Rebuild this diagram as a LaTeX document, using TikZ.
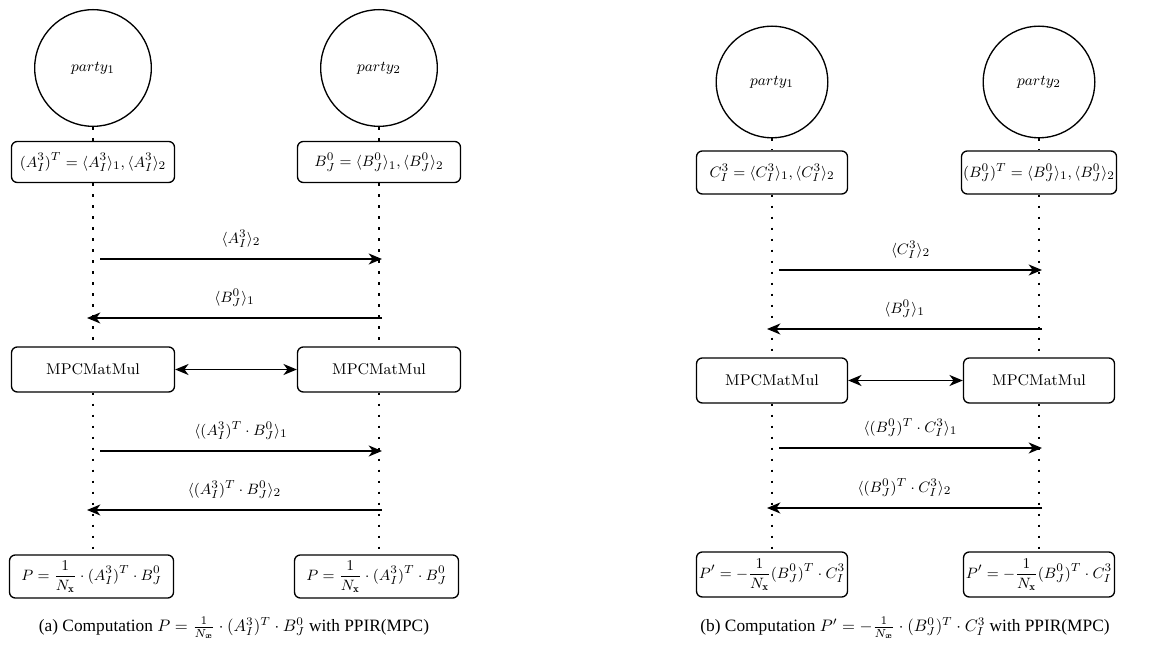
\documentclass[tikz,border=0pt]{standalone}
\usepackage{amsmath,bm}
\usepackage{fontspec}
\newfontfamily\capfont{Liberation Serif}
\usetikzlibrary{arrows.meta}
\tikzset{
  party/.style={draw, circle, line width=.8pt, minimum size=#1, inner sep=0pt},
  share/.style={draw, rounded corners=3.5pt, line width=.8pt, minimum width=#1, inner sep=1pt},
  life/.style={line width=1.7pt, dash pattern=on 1.7pt off 4.9pt},
  msg/.style={->, line width=1.1pt},
  lbl/.style={above=3pt, font=\fontsize{9.3}{11}\selectfont},
}
\begin{document}
\begin{tikzpicture}[x=0.6pt, y=-0.6pt, font=\fontsize{9.3}{11}\selectfont, >={Stealth[length=8pt,width=6.6pt,inset=2.4pt]}]
	\useasboundingbox (0,0) rectangle (1163,651);
	% (a) left diagram
	\def\xa{93} \def\xb{379}
	\node[party=70pt] (pa1) at (\xa,68) {$party_1$};
	\node[party=70pt] (pa2) at (\xb,68) {$party_2$};
	\node[share=97.8pt, minimum height=24.6pt] (sa1) at (\xa,162) {$(A_I^3)^T = \langle A_I^3\rangle_1, \langle A_I^3\rangle_2$};
	\node[share=97.8pt, minimum height=24.6pt] (sa2) at (\xb,162) {$B_J^0 = \langle B_J^0\rangle_1, \langle B_J^0\rangle_2$};
	\node[share=97.8pt, minimum height=27pt] (ma1) at (\xa,369.5) {MPCMatMul};
	\node[share=97.8pt, minimum height=27pt] (ma2) at (\xb,369.5) {MPCMatMul};
	\node[share=98.4pt, minimum height=25.8pt] (ra1) at (91.5,576.5) {$P = \dfrac{1}{N_{\mathbf{x}}} \cdot (A_I^3)^T \cdot B_J^0$};
	\node[share=98.4pt, minimum height=25.8pt] (ra2) at (376.5,576.5) {$P = \dfrac{1}{N_{\mathbf{x}}} \cdot (A_I^3)^T \cdot B_J^0$};
	\foreach \i in {1,2} {
		\draw[life] (pa\i.south) -- (sa\i.north);
		\draw[life] (sa\i.south) -- (ma\i.north);
		\draw[life] (ma\i.south) -- (ra\i.north -| ma\i.south);
	}
	\coordinate (ua1) at (100,259); \coordinate (ua2) at (382,259);
	\coordinate (va2) at (382,318); \coordinate (va1) at (87,318);
	\coordinate (wa1) at (100,451); \coordinate (wa2) at (382,451);
	\coordinate (za2) at (382,510); \coordinate (za1) at (87,510);
	\draw[msg] (ua1) -- (ua2) node[midway, lbl] {$\langle A_I^3\rangle_2$};
	\draw[msg] (va2) -- (va1) node[midway, lbl] {$\langle B_J^0\rangle_1$};
	\draw[<->, line width=1.1pt] (ma1) -- (ma2);
	\draw[msg] (wa1) -- (wa2) node[midway, lbl] {$\langle (A_I^3)^T \cdot B_J^0\rangle_1$};
	\draw[msg] (za2) -- (za1) node[midway, lbl] {$\langle (A_I^3)^T \cdot B_J^0\rangle_2$};
	\node[font=\capfont\fontsize{10.4}{12}\selectfont] (capa) at (234,628) {(a) Computation $P = \frac{1}{N_{\bm{x}}} \cdot (A_I^3)^T \cdot B_J^0$ with PPIR(MPC)};
	% (b) right diagram
	\def\xa{772} \def\xb{1039}
	\node[party=67pt] (pb1) at (\xa,82) {$party_1$};
	\node[party=67pt] (pb2) at (\xb,82) {$party_2$};
	\node[share=90.6pt, minimum height=25.8pt] (sb1) at (\xa,172.5) {$C_I^3 = \langle C_I^3\rangle_1, \langle C_I^3\rangle_2$};
	\node[share=90.6pt, minimum height=25.8pt] (sb2) at (\xb,172.5) {$(B_J^0)^T = \langle B_J^0\rangle_1, \langle B_J^0\rangle_2$};
	\node[share=90.6pt, minimum height=27pt] (mb1) at (\xa,380.5) {MPCMatMul};
	\node[share=90.6pt, minimum height=27pt] (mb2) at (\xb,380.5) {MPCMatMul};
	\node[share=90.6pt, minimum height=27pt] (rb1) at (\xa,574.5) {$P' = -\dfrac{1}{N_{\mathbf{x}}}(B_J^0)^T \cdot C_I^3$};
	\node[share=90.6pt, minimum height=27pt] (rb2) at (\xb,574.5) {$P' = -\dfrac{1}{N_{\mathbf{x}}}(B_J^0)^T \cdot C_I^3$};
	\foreach \i in {1,2} {
		\draw[life] (pb\i.south) -- (sb\i.north);
		\draw[life] (sb\i.south) -- (mb\i.north);
		\draw[life] (mb\i.south) -- (rb\i.north);
	}
	\coordinate (ub1) at (779,270); \coordinate (ub2) at (1042,270);
	\coordinate (vb2) at (1042,329); \coordinate (vb1) at (767,329);
	\coordinate (wb1) at (779,448); \coordinate (wb2) at (1042,448);
	\coordinate (zb2) at (1042,508); \coordinate (zb1) at (767,508);
	\draw[msg] (ub1) -- (ub2) node[midway, lbl] {$\langle C_I^3\rangle_2$};
	\draw[msg] (vb2) -- (vb1) node[midway, lbl] {$\langle B_J^0\rangle_1$};
	\draw[<->, line width=1.1pt] (mb1) -- (mb2);
	\draw[msg] (wb1) -- (wb2) node[midway, lbl] {$\langle (B_J^0)^T \cdot C_I^3\rangle_1$};
	\draw[msg] (zb2) -- (zb1) node[midway, lbl] {$\langle (B_J^0)^T \cdot C_I^3\rangle_2$};
	\node[font=\capfont\fontsize{10.4}{12}\selectfont] (capb) at (905,628) {(b) Computation $P' = -\frac{1}{N_{\bm{x}}} \cdot (B_J^0)^T \cdot C_I^3$ with PPIR(MPC)};
\end{tikzpicture}
\end{document}
